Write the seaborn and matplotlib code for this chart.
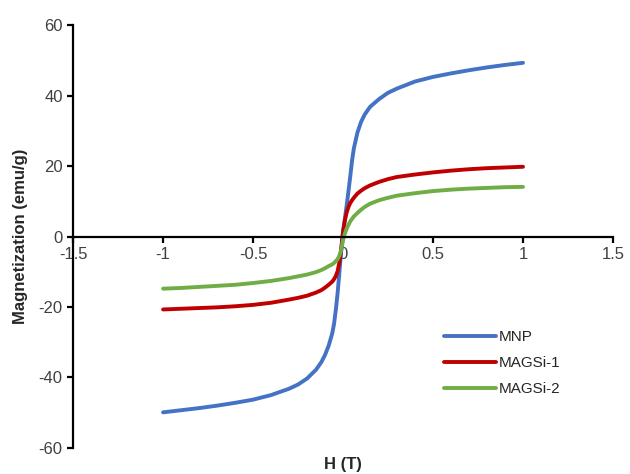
import pandas as pd
import seaborn as sns
import matplotlib.pyplot as plt

# Field values (T) shared by all three loops
field = [-1, -0.9, -0.8, -0.7, -0.6, -0.5, -0.4, -0.3, -0.25, -0.2, -0.15, -0.12, -0.1,
         -0.08, -0.06, -0.05, -0.04, -0.03, -0.02, -0.01,
         0, 0.01, 0.02, 0.03, 0.04, 0.05, 0.06, 0.08, 0.1, 0.12, 0.15, 0.2, 0.25, 0.3,
         0.4, 0.5, 0.6, 0.7, 0.8, 0.9, 1]

# Magnetization (emu/g)
mnp = [-49.9, -49.3, -48.7, -48, -47.2, -46.3, -45, -43.2, -42, -40.3, -37.8, -35.6, -33.6,
       -31, -27.5, -24.8, -20.8, -16, -10, -4,
       1.5, 5, 8.8, 12.8, 17, 21.5, 25, 29.5, 32.5, 34.6, 36.8, 39, 40.8, 42,
       44, 45.3, 46.3, 47.2, 48, 48.7, 49.3]
magsi1 = [-20.7, -20.5, -20.3, -20.1, -19.8, -19.4, -18.8, -17.9, -17.4, -16.8, -15.9, -15.2, -14.5,
          -13.7, -12.8, -12.1, -11.2, -9.8, -7.2, -3.5,
          1.2, 4.5, 6.8, 8.4, 9.5, 10.3, 11, 12.2, 13, 13.7, 14.5, 15.5, 16.3, 16.9,
          17.6, 18.2, 18.7, 19.1, 19.4, 19.6, 19.8]
magsi2 = [-14.8, -14.6, -14.3, -14, -13.7, -13.2, -12.6, -11.8, -11.3, -10.8, -10.1, -9.5, -9,
          -8.4, -7.9, -7.5, -7, -6.4, -5.4, -3.8,
          -1, 0.8, 2.2, 3.3, 4.3, 5, 5.7, 6.7, 7.6, 8.4, 9.3, 10.3, 11, 11.6,
          12.3, 12.9, 13.3, 13.6, 13.8, 14, 14.1]

samples = ['MNP', 'MAGSi-1', 'MAGSi-2']
colors = ['#4472C4', '#C00000', '#70AD47']

x_ticks = [-1.5, -1, -0.5, 0, 0.5, 1, 1.5]
x_tick_labels = ['-1.5', '-1', '-0.5', '0', '0.5', '1', '1.5']
y_ticks = [-60, -40, -20, 0, 20, 40, 60]

# Long form table for seaborn
df = pd.concat([
    pd.DataFrame({'H': field, 'M': vals, 'Sample': name})
    for name, vals in zip(samples, [mnp, magsi1, magsi2])
])

sns.set_style('white')
plt.rcParams['font.family'] = ['Liberation Sans', 'DejaVu Sans']
plt.rcParams['axes.unicode_minus'] = False

fig = plt.figure(figsize=(6.3, 4.74), dpi=100)
ax = fig.add_axes([0.116, 0.055, 0.857, 0.892])

sns.lineplot(data=df, x='H', y='M', hue='Sample', palette=colors, hue_order=samples,
             linewidth=2.8, sort=False, estimator=None, ax=ax)

ax.set_xlim(-1.5, 1.5)
ax.set_ylim(-60, 60)
ax.set_xticks(x_ticks)
ax.set_xticklabels(x_tick_labels)
ax.set_yticks(y_ticks)

# axes cross at y = 0
ax.spines['bottom'].set_position(('data', 0))
ax.spines['top'].set_visible(False)
ax.spines['right'].set_visible(False)
for s in ['bottom', 'left']:
    ax.spines[s].set_linewidth(1.6)
    ax.spines[s].set_color('black')

ax.tick_params(axis='both', direction='out', length=4, width=1.6, color='black',
               labelsize=12, labelcolor='#404040')
ax.tick_params(axis='both', which='both', bottom=True, left=True)

ax.set_xlabel('H (T)', fontsize=12, fontweight='bold')
ax.set_ylabel('Magnetization (emu/g)', fontsize=12, fontweight='bold')
ax.xaxis.set_label_coords(0.5, -0.022)
ax.yaxis.set_label_coords(-0.083, 0.5)

ax.legend(frameon=False, loc='center left', bbox_to_anchor=(0.705, 0.234),
          bbox_transform=fig.transFigure, fontsize=11, handlelength=3.4,
          handletextpad=0.15, labelspacing=0.8, borderpad=0, borderaxespad=0)

plt.savefig('out.png', dpi=100)
